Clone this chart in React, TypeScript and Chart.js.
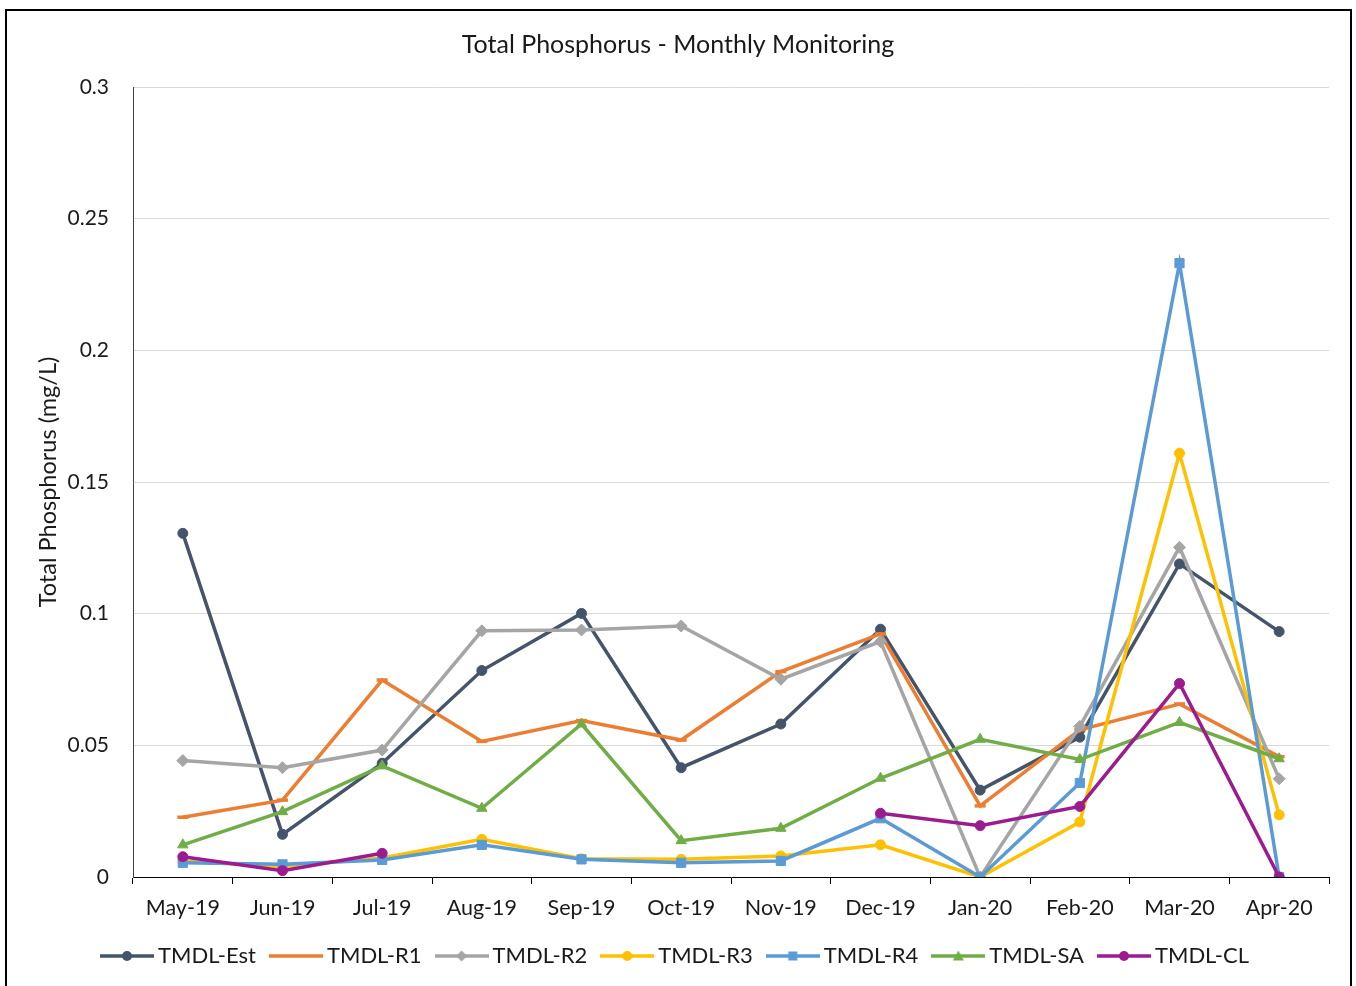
import React, { useEffect, useRef } from "react";
import { Chart, registerables } from "chart.js";

Chart.register(...registerables);

const categories = ["May-19", "Jun-19", "Jul-19", "Aug-19", "Sep-19", "Oct-19", "Nov-19", "Dec-19", "Jan-20", "Feb-20", "Mar-20", "Apr-20"];

const tmdlEst = [0.1305, 0.0162, 0.0432, 0.0784, 0.1001, 0.0415, 0.0581, 0.0941, 0.033, 0.0531, 0.1189, 0.0932];
const tmdlR1 = [0.0227, 0.0292, 0.0748, 0.0515, 0.0594, 0.052, 0.078, 0.0923, 0.027, 0.0559, 0.0657, 0.0457];
const tmdlR2 = [0.0442, 0.0415, 0.0482, 0.0935, 0.0938, 0.0953, 0.0751, 0.0894, 0, 0.0572, 0.1252, 0.0373];
const tmdlR3 = [0.006, 0.004, 0.0072, 0.0143, 0.0069, 0.0067, 0.008, 0.0122, 0, 0.0209, 0.1609, 0.0236];
const tmdlR4 = [0.0054, 0.0048, 0.0065, 0.0122, 0.0067, 0.0054, 0.0061, 0.0223, 0, 0.0357, 0.2331, 0];
const tmdlSA = [0.0122, 0.0248, 0.0422, 0.0261, 0.0581, 0.0138, 0.0185, 0.0375, 0.0523, 0.0446, 0.0587, 0.0449];
const tmdlCL = [0.0077, 0.0024, 0.009, null, null, null, null, 0.0242, 0.0195, 0.0268, 0.0735, 0];

const seriesNames = ["TMDL-Est", "TMDL-R1", "TMDL-R2", "TMDL-R3", "TMDL-R4", "TMDL-SA", "TMDL-CL"];
const seriesValues = [tmdlEst, tmdlR1, tmdlR2, tmdlR3, tmdlR4, tmdlSA, tmdlCL];
const seriesColors = ["#44546A", "#ED7D31", "#A5A5A5", "#FFC000", "#5B9BD5", "#70AD47", "#9C1C90"];
const seriesMarkers = ["circle", "line", "rectRot", "circle", "rect", "triangle", "circle"];
const markerRadius = [5, 5.5, 6, 5, 6.5, 6, 5];

const yTickLabels = ["0", "0.05", "0.1", "0.15", "0.2", "0.25", "0.3"];
const yStep = 0.05;
const yMax = 0.3;

const chartTitle = "Total Phosphorus - Monthly Monitoring";
const yAxisTitle = "Total Phosphorus (mg/L)";

const FONT = "Lato";

function makeLegendIcon(color: string, marker: string): HTMLCanvasElement {
  const c = document.createElement("canvas");
  c.width = 54;
  c.height = 16;
  const ctx = c.getContext("2d")!;
  const cy = 8;
  ctx.strokeStyle = color;
  ctx.fillStyle = color;
  ctx.lineWidth = 3.5;
  ctx.beginPath();
  ctx.moveTo(0, cy);
  ctx.lineTo(54, cy);
  ctx.stroke();
  const cx = 27;
  ctx.beginPath();
  if (marker === "circle") {
    ctx.arc(cx, cy, 5, 0, Math.PI * 2);
    ctx.fill();
  } else if (marker === "rectRot") {
    ctx.moveTo(cx, cy - 5.5);
    ctx.lineTo(cx + 5.5, cy);
    ctx.lineTo(cx, cy + 5.5);
    ctx.lineTo(cx - 5.5, cy);
    ctx.closePath();
    ctx.fill();
  } else if (marker === "rect") {
    ctx.rect(cx - 4.5, cy - 4.5, 9, 9);
    ctx.fill();
  } else if (marker === "triangle") {
    ctx.moveTo(cx, cy - 5.5);
    ctx.lineTo(cx + 5.5, cy + 4.5);
    ctx.lineTo(cx - 5.5, cy + 4.5);
    ctx.closePath();
    ctx.fill();
  }
  return c;
}

export default function App() {
  const canvasRef = useRef<HTMLCanvasElement | null>(null);

  useEffect(() => {
    if (!canvasRef.current) return;
    const icons = seriesColors.map((col, i) => makeLegendIcon(col, seriesMarkers[i]));
    const n = seriesNames.length;
    const chart = new Chart(canvasRef.current, {
      type: "line",
      data: {
        labels: categories,
        datasets: seriesNames.map((name, i) => ({
          label: name,
          data: seriesValues[i],
          borderColor: seriesColors[i],
          backgroundColor: seriesColors[i],
          pointBackgroundColor: seriesColors[i],
          pointBorderColor: seriesColors[i],
          pointStyle: seriesMarkers[i] as any,
          pointRadius: markerRadius[i],
          pointBorderWidth: seriesMarkers[i] === "line" ? 3.5 : 1,
          borderWidth: 3.5,
          tension: 0,
          spanGaps: false,
          order: n - i,
        })),
      },
      options: {
        animation: false,
        responsive: false,
        layout: { padding: { left: 27, right: 27, top: 10, bottom: 9 } },
        plugins: {
          title: {
            display: true,
            text: chartTitle,
            color: "#1a1a1a",
            font: { family: FONT, size: 25, weight: "normal" },
            padding: { top: 20, bottom: 27 },
          },
          legend: {
            position: "bottom",
            labels: {
              usePointStyle: true,
              pointStyleWidth: 40,
              padding: 20,
              color: "#1a1a1a",
              font: { family: FONT, size: 22 },
              generateLabels: (ch: any) => {
                const items = Chart.defaults.plugins.legend.labels.generateLabels(ch);
                items.forEach((it: any) => {
                  it.pointStyle = icons[it.datasetIndex];
                });
                return items.sort((a: any, b: any) => a.datasetIndex - b.datasetIndex);
              },
            },
          },
          tooltip: { enabled: false },
        },
        scales: {
          x: {
            type: "category",
            offset: true,
            grid: { offset: true, drawOnChartArea: false, drawTicks: true, tickLength: 7, color: "#000" },
            border: { color: "#000", width: 1 },
            ticks: {
              color: "#1a1a1a",
              font: { family: FONT, size: 21.5 },
              padding: 11,
              maxRotation: 0,
              autoSkip: false,
            },
            afterFit: (s: any) => {
              s.height = 48;
            },
          },
          y: {
            min: 0,
            max: yMax,
            ticks: {
              stepSize: yStep,
              color: "#1a1a1a",
              font: { family: FONT, size: 21 },
              padding: 24,
              callback: (v: any) => yTickLabels[Math.round(Number(v) / yStep)],
            },
            grid: { color: "#d9d9d9", drawTicks: false, lineWidth: 1 },
            border: { color: "#404040", width: 1 },
            title: {
              display: true,
              text: yAxisTitle,
              color: "#1a1a1a",
              font: { family: FONT, size: 23.5 },
              padding: { top: 7, bottom: 0 },
            },
            afterFit: (s: any) => {
              s.width = 106;
            },
          },
        },
      },
    } as any);
    return () => chart.destroy();
  }, []);

  return (
    <div style={{ position: "fixed", left: 0, top: 0, width: 1356, height: 986, overflow: "hidden", background: "#fff" }}>
      <div
        style={{
          position: "absolute",
          left: 5,
          top: 9,
          width: 1347,
          height: 1000,
          border: "2px solid #000",
          boxSizing: "border-box",
        }}
      />
      <canvas ref={canvasRef} width={1356} height={986} style={{ position: "absolute", left: 0, top: 0 }} />
    </div>
  );
}
